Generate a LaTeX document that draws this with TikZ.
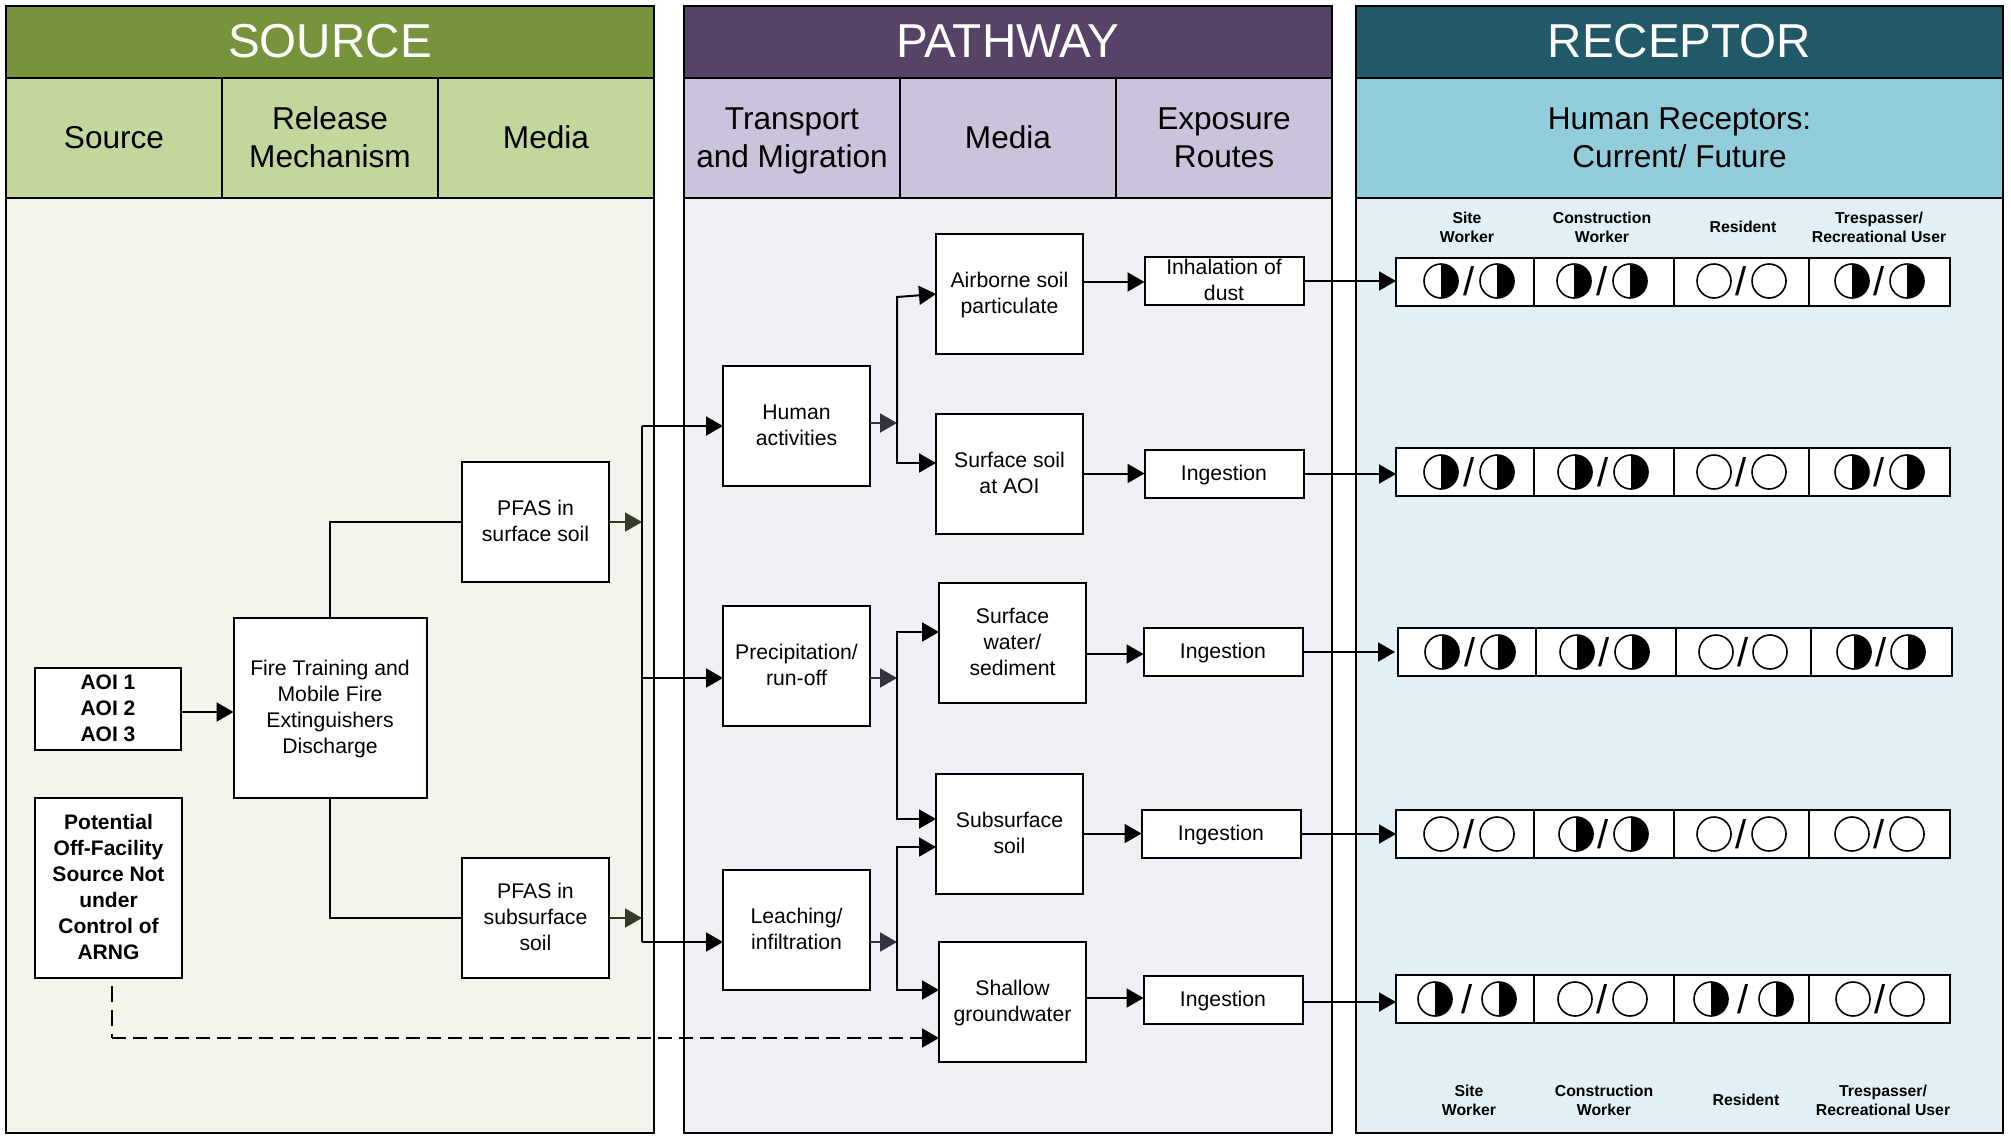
\documentclass[tikz,border=0pt]{standalone}
\usepackage{fontspec}
\setmainfont{Liberation Sans}
\usetikzlibrary{arrows.meta}
\definecolor{gh}{HTML}{77933C}\definecolor{gs}{HTML}{C3D69B}\definecolor{gb}{HTML}{F2F5EC}
\definecolor{ph}{HTML}{574368}\definecolor{ps}{HTML}{CBC2DB}\definecolor{pb}{HTML}{F1EFF5}
\definecolor{th}{HTML}{215968}\definecolor{ts}{HTML}{92CDDC}\definecolor{tb}{HTML}{E2F0F5}
\definecolor{ag}{HTML}{333A2A}\definecolor{ap}{HTML}{35323F}
\tikzset{
  wh/.style 2 args={minimum width=#1*0.5pt,minimum height=#2*0.5pt},
  panel/.style={draw=black,line width=1.2pt,inner sep=0pt,outer sep=0pt,align=center},
  headtxt/.style={panel,text=white,font=\fontsize{23.8}{28}\selectfont,text height=22pt,text depth=7pt},
  subtxt/.style={panel,font=\fontsize{15.8}{19}\selectfont,text height=14pt,text depth=4pt},
  subtwo/.style={subtxt,text height=33pt},
  box/.style={draw=black,fill=white,line width=1pt,inner sep=0pt,outer sep=0pt,align=center,font=\fontsize{10.6}{13}\selectfont,text height=9.8pt,text depth=3pt},
  two/.style={text height=22.8pt},
  three/.style={text height=35.8pt},
  four/.style={text height=48.8pt},
  six/.style={text height=74.8pt},
  bbox/.style={box,font=\fontsize{10.5}{13}\bfseries\selectfont},
  cell/.style={draw=black,fill=white,line width=1pt,inner sep=0pt,outer sep=0pt,minimum height=24pt},
  lab/.style={inner sep=0pt,align=center,font=\fontsize{7.9}{9.5}\bfseries\selectfont},
  openc/.style={circle,draw=black,fill=white,line width=0.8pt,inner sep=0pt,minimum size=17pt},
  halfc/.style={openc,path picture={\fill[black] (path picture bounding box.north) rectangle (path picture bounding box.south east);}},
  slash/.style={inner sep=0pt,font=\fontsize{20}{20}\selectfont},
  conn/.style={line width=1pt,draw=black},
  arr/.style={conn,-{Triangle[length=8.5pt,width=9.5pt]}},
  arrg/.style={line width=1pt,draw=ag,-{Triangle[length=8.5pt,width=9.5pt]},color=ag},
  arrp/.style={line width=1pt,draw=ap,-{Triangle[length=8.5pt,width=9.5pt]},color=ap},
}
\newcommand\symbpair[4]{%
  \node[#4,name=a#1r#3] at (#1,#3) {};
  \node[#4,name=b#2r#3] at (#2,#3) {};
  \node[slash,name=s#1r#3] at ({(#1+#2)/2},#3) {/};
}
\begin{document}
\begin{tikzpicture}[x=0.5pt,y=-0.5pt]
\useasboundingbox (0,0) rectangle (2011,1135);
% panels
\node[panel,fill=gb,wh={648}{935}] (gbody) at (330,665.5) {};
\node[panel,fill=pb,wh={648}{935}] (pbody) at (1008,665.5) {};
\node[panel,fill=tb,wh={647}{935}] (tbody) at (1679.5,665.5) {};
\node[headtxt,fill=gh,wh={648}{72}] (ghead) at (330,42) {SOURCE};
\node[headtxt,fill=ph,wh={648}{72}] (phead) at (1008,42) {PATHWAY};
\node[headtxt,fill=th,wh={647}{72}] (thead) at (1679.5,42) {RECEPTOR};
\node[subtxt,fill=gs,wh={216}{120}] (g1) at (114,138) {Source};
\node[subtwo,fill=gs,wh={216}{120}] (g2) at (330,138) {Release\\Mechanism};
\node[subtxt,fill=gs,wh={216}{120}] (g3) at (546,138) {Media};
\node[subtwo,fill=ps,wh={216}{120}] (p1) at (792,138) {Transport\\and Migration};
\node[subtxt,fill=ps,wh={216}{120}] (p2) at (1008,138) {Media};
\node[subtwo,fill=ps,wh={216}{120}] (p3) at (1224,138) {Exposure\\Routes};
\node[subtwo,fill=ts,wh={647}{120}] (t1) at (1679.5,138) {Human Receptors:\\Current/ Future};
% junction coordinates
\coordinate (busa) at (642,426);
\coordinate (busb) at (642,942);
\coordinate (busc) at (642,678);
\coordinate (hub1) at (897,423);
\coordinate (hub2) at (897,678);
\coordinate (hub3) at (897,942);
% boxes
\node[bbox,three,wh={146}{82}] (aoi) at (108,709) {AOI 1\\AOI 2\\AOI 3};
\node[box,four,wh={193}{180}] (fire) at (330,708) {Fire Training and\\Mobile Fire\\Extinguishers\\Discharge};
\node[box,two,wh={147}{120}] (psurf) at (535.5,522) {PFAS in\\surface soil};
\node[box,three,wh={147}{120}] (psub) at (535.5,918) {PFAS in\\subsurface\\soil};
\node[bbox,six,wh={147}{180}] (pot) at (108.5,888) {Potential\\Off-Facility\\Source Not\\under\\Control of\\ARNG};
\node[box,two,wh={147}{120}] (human) at (796.5,426) {Human\\activities};
\node[box,two,wh={147}{120}] (precip) at (796.5,666) {Precipitation/\\run-off};
\node[box,two,wh={147}{120}] (leach) at (796.5,930) {Leaching/\\infiltration};
\node[box,two,wh={147}{120}] (air) at (1009.5,293.5) {Airborne soil\\particulate};
\node[box,two,wh={147}{120}] (ssoil) at (1009.5,473.5) {Surface soil\\at AOI};
\node[box,three,wh={147}{120}] (swater) at (1012.5,642.5) {Surface\\water/\\sediment};
\node[box,two,wh={147}{120}] (subs) at (1009.5,833.5) {Subsurface\\soil};
\node[box,two,wh={147}{120}] (shal) at (1012.5,1001.5) {Shallow\\groundwater};
\node[box,text height=21.9pt,text depth=2.1pt,wh={159}{48}] (inh) at (1224,281) {Inhalation of\\dust};
\node[box,wh={159}{48}] (ing1) at (1224,474) {Ingestion};
\node[box,wh={159}{48}] (ing2) at (1223,652) {Ingestion};
\node[box,wh={159}{48}] (ing3) at (1221,834) {Ingestion};
\node[box,wh={159}{48}] (ing4) at (1223,1000) {Ingestion};
% receptor tables
\foreach \r/\y/\d in {1/282/0,2/472/0,3/652/2,4/834/0,5/998.5/0}{
  \node[cell,minimum width=69pt]   (c\r a) at ({1465+\d},\y) {};
  \node[cell,minimum width=70pt]   (c\r b) at ({1604+\d},\y) {};
  \node[cell,minimum width=67.5pt] (c\r c) at ({1741.5+\d},\y) {};
  \node[cell,minimum width=70.5pt] (c\r d) at ({1879.5+\d},\y) {};
}
% symbols
\symbpair{1441}{1497}{281}{halfc}\symbpair{1574}{1630}{281}{halfc}\symbpair{1714}{1769}{281}{openc}\symbpair{1852}{1907}{281}{halfc}
\symbpair{1441}{1497}{472}{halfc}\symbpair{1575}{1631}{472}{halfc}\symbpair{1714}{1769}{472}{openc}\symbpair{1852}{1907}{472}{halfc}
\symbpair{1442}{1498}{652}{halfc}\symbpair{1577}{1632}{652}{halfc}\symbpair{1716}{1770}{652}{openc}\symbpair{1854}{1908}{652}{halfc}
\symbpair{1441}{1497}{834}{openc}\symbpair{1576}{1631}{834}{halfc}\symbpair{1714}{1769}{834}{openc}\symbpair{1852}{1907}{834}{openc}
\symbpair{1435}{1499}{999}{halfc}\symbpair{1575}{1630}{999}{openc}\symbpair{1711}{1776}{999}{halfc}\symbpair{1853}{1907}{999}{openc}
% receptor labels
\node[lab] (l1) at (1467,227) {Site\\Worker};
\node[lab] (l2) at (1602,227) {Construction\\Worker};
\node[lab] (l3) at (1743,227) {Resident};
\node[lab] (l4) at (1879,227) {Trespasser/\\Recreational User};
\node[lab] (l5) at (1469,1100) {Site\\Worker};
\node[lab] (l6) at (1604,1100) {Construction\\Worker};
\node[lab] (l7) at (1746,1100) {Resident};
\node[lab] (l8) at (1883,1100) {Trespasser/\\Recreational User};
% source connectors
\draw[arr] (aoi.east |- 0,712) -- (fire.west |- 0,712);
\draw[conn] (fire.north) |- (psurf.west);
\draw[conn] (fire.south) |- (psub.west);
\draw[arrg] (psurf.east) -- (psurf.east -| busa);
\draw[arrg] (psub.east) -- (psub.east -| busa);
% bus
\draw[conn] (busa) -- (busb);
\draw[arr] (busa) -- (busa -| human.west);
\draw[arr] (busc) -- (busc -| precip.west);
\draw[arr] (busb) -- (busb -| leach.west);
% pathway connectors
\draw[arrp] (human.east |- hub1) -- (hub1);
\draw[arrp] (precip.east |- hub2) -- (hub2);
\draw[arrp] (leach.east |- hub3) -- (hub3);
\draw[arr] (hub1 |- 0,297) -- (hub1 |- 0,463) -- (ssoil.west |- 0,463);
\draw[arr] (hub1) -- (hub1 |- 0,297) -- (air.west |- 0,294);
\draw[arr] (hub2) -- (hub2 |- 0,632) -- (swater.west |- 0,632);
\draw[arr] (hub2) -- (hub2 |- 0,819) -- (subs.west |- 0,819);
\draw[arr] (hub3) -- (hub3 |- 0,847) -- (subs.west |- 0,847);
\draw[arr] (hub3) -- (hub3 |- 0,990) -- (shal.west |- 0,990);
\draw[arr] (air.east |- 0,282) -- (inh.west |- 0,282);
\draw[arr] (ssoil.east) -- (ing1.west |- ssoil.east);
\draw[arr] (swater.east |- 0,654) -- (ing2.west |- 0,654);
\draw[arr] (subs.east) -- (ing3.west |- subs.east);
\draw[arr] (shal.east |- 0,998) -- (ing4.west |- 0,998);
\draw[arr] (inh.east) -- (inh.east -| c1a.west);
\draw[arr] (ing1.east) -- (ing1.east -| c2a.west);
\draw[arr,shorten >=1.5pt] (ing2.east) -- (ing2.east -| c3a.west);
\draw[arr] (ing3.east) -- (ing3.east -| c4a.west);
\draw[arr] (ing4.east |- 0,1002) -- (c5a.west |- 0,1002);
% dashed
\coordinate (bend) at (112,1038);
\draw[line width=0.6pt,draw=black,dash pattern=on 8pt off 4pt,dash phase=8pt] (pot.south -| bend) -- (bend);
\draw[line width=1pt,draw=black,dash pattern=on 7pt off 3.5pt,-{Triangle[length=8.5pt,width=9.5pt]}] (bend) -- (shal.west |- bend);
\end{tikzpicture}
\end{document}
